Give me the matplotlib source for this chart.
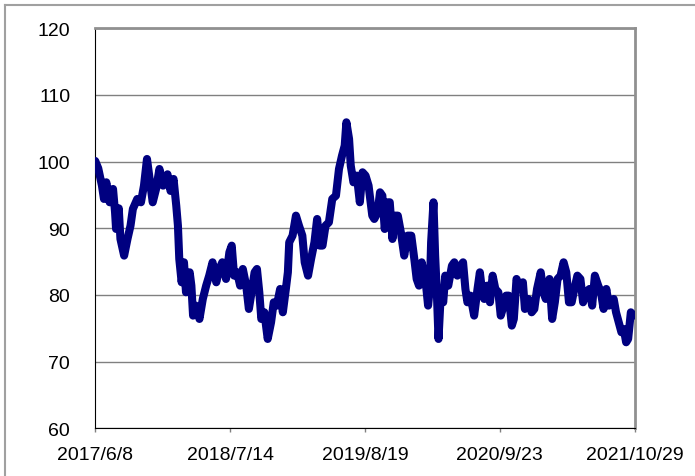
import pandas as pd
import matplotlib.pyplot as plt
from matplotlib.lines import Line2D

plt.rcParams['font.family'] = ['Liberation Sans', 'DejaVu Sans']

# days since 2017/6/8 and the index value
start_date = "2017-06-08"
end_date = "2021-10-29"
day_offset = [
    0, 9, 20, 26, 33, 43, 53, 59, 62, 70, 75, 86, 96, 105, 112, 125, 136, 145, 154, 162,
    171, 181, 191, 202, 215, 224, 233, 241, 246, 250, 257, 264, 270, 281, 286, 291, 299, 310, 320, 330,
    339, 349, 360, 369, 378, 389, 399, 406, 413, 422, 431, 439, 449, 457, 465, 474, 481, 488, 494, 503,
    513, 523, 531, 540, 550, 558, 567, 573, 577, 587, 597, 606, 616, 623, 633, 642, 652, 660, 668, 676,
    685, 695, 705, 716, 725, 734, 742, 747, 755, 760, 768, 778, 787, 795, 804, 813, 824, 830, 840, 847,
    854, 861, 870, 876, 884, 892, 900, 909, 919, 929, 940, 949, 956, 963, 971, 979, 985, 990, 995, 999,
    1006, 1011, 1016, 1021, 1028, 1035, 1041, 1050, 1061, 1068, 1077, 1087, 1094, 1101, 1107, 1116, 1127, 1137, 1144, 1151,
    1157, 1166, 1174, 1182, 1190, 1199, 1206, 1215, 1222, 1230, 1239, 1245, 1253, 1261, 1272, 1278, 1288, 1298, 1306, 1314,
    1325, 1333, 1340, 1351, 1359, 1367, 1375, 1384, 1393, 1401, 1409, 1417, 1425, 1434, 1443, 1451, 1459, 1470, 1478, 1486,
    1496, 1504, 1512, 1520, 1528, 1535, 1542, 1549, 1557, 1565, 1572, 1579, 1585, 1593, 1601, 1604,
]
index_value = [
    100.1, 99.0, 96.4, 94.4, 96.9, 93.9, 95.9, 92.4, 89.9, 93.0, 88.4, 85.9, 88.4, 90.4, 92.9, 94.4, 93.9, 96.4, 100.4, 97.4,
    93.9, 95.9, 98.9, 96.4, 98.1, 95.6, 97.4, 93.4, 90.4, 85.4, 81.9, 84.9, 80.4, 83.4, 81.4, 76.9, 78.4, 76.4, 79.4, 81.4,
    82.9, 84.9, 81.9, 83.9, 84.9, 82.4, 86.4, 87.4, 82.9, 83.4, 81.4, 83.9, 81.4, 77.9, 80.4, 83.4, 83.9, 80.4, 76.4, 77.4,
    73.4, 75.9, 78.9, 78.4, 80.9, 77.4, 80.9, 83.4, 87.9, 88.9, 91.9, 90.4, 88.9, 84.9, 82.9, 85.4, 87.9, 91.4, 87.4, 87.4,
    90.4, 90.9, 94.4, 94.9, 98.9, 100.9, 102.4, 105.9, 103.4, 99.4, 96.9, 97.9, 93.9, 98.4, 97.9, 96.4, 91.9, 91.4, 92.4, 95.4,
    94.9, 89.9, 93.9, 93.9, 88.4, 91.9, 91.9, 89.4, 85.9, 88.9, 88.9, 85.4, 82.4, 81.4, 84.9, 82.9, 80.9, 78.4, 80.9, 87.9,
    93.9, 85.9, 80.4, 73.4, 80.4, 78.9, 82.9, 81.4, 84.4, 84.9, 82.9, 84.4, 84.9, 80.9, 78.9, 79.9, 76.9, 80.9, 83.4, 80.4,
    79.4, 81.4, 78.9, 82.9, 80.9, 80.4, 76.9, 78.4, 79.9, 79.9, 75.4, 76.4, 82.4, 81.4, 81.9, 77.9, 79.4, 77.4, 77.9, 80.9,
    83.4, 80.4, 79.4, 82.4, 76.4, 78.9, 82.4, 82.9, 84.9, 83.4, 78.9, 78.9, 80.9, 82.9, 82.4, 78.9, 80.4, 80.9, 78.4, 82.9,
    81.4, 80.4, 77.9, 80.9, 78.4, 78.9, 79.4, 77.4, 75.9, 74.4, 74.9, 72.9, 73.4, 77.4, 76.9, 77.0,
]
tick_dates = ["2017-06-08", "2018-07-14", "2019-08-19", "2020-09-23", "2021-10-29"]
tick_labels = ["2017/6/8", "2018/7/14", "2019/8/19", "2020/9/23", "2021/10/29"]

dates = pd.Timestamp(start_date) + pd.to_timedelta(day_offset, unit="D")

fig = plt.figure(figsize=(6.95, 4.77), dpi=100)
ax = fig.add_axes([0.137, 0.100, 0.776, 0.8386])

ax.plot(dates, index_value, color="#000080", linewidth=5.8, solid_joinstyle="round",
        solid_capstyle="round", zorder=3)

ax.set_xlim(pd.Timestamp(start_date), pd.Timestamp(end_date))
ax.set_ylim(60, 120)
ax.set_yticks(range(60, 121, 10))
ax.set_xticks(pd.to_datetime(tick_dates))
ax.set_xticklabels(tick_labels)
ax.tick_params(axis="y", length=0, pad=18, labelsize=14)
ax.tick_params(axis="x", length=3, width=1, color="#808080", pad=10, labelsize=14)
ax.grid(axis="y", color="#808080", linewidth=1)
ax.set_axisbelow(True)

ax.spines["left"].set_color("black")
ax.spines["bottom"].set_color("black")
ax.spines["top"].set_color("#909090")
ax.spines["right"].set_color("#909090")
ax.spines["top"].set_linewidth(2)
ax.spines["right"].set_linewidth(2)

# frame round the figure (top and left edge only)
fig.add_artist(Line2D([5 / 695, 1.0], [1 - 6 / 477, 1 - 6 / 477], color="#a0a0a0", linewidth=1.5))
fig.add_artist(Line2D([5 / 695, 5 / 695], [0.0, 1 - 6 / 477], color="#a0a0a0", linewidth=1.5))

fig.savefig("out.png", dpi=100)
